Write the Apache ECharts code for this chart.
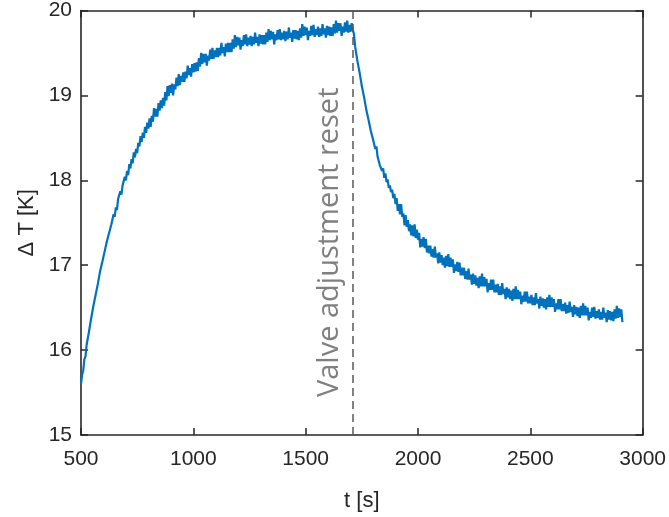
<!DOCTYPE html>
<html>
<head>
<meta charset="utf-8">
<script src="https://cdn.jsdelivr.net/npm/echarts@6/dist/echarts.min.js"></script>
<style>
html,body{margin:0;padding:0;background:#fff;}
#c{width:669px;height:517px;}
</style>
</head>
<body>
<div id="c"></div>
<script>
// sampling grid (s)
var tStart = 500;
var tStep = 5;
// Delta T [K] (noisy trace), one value per 5 s from 500 s to 2910 s
var riseValues = [
15.60,15.71,15.76,15.89,15.93,16.06,16.08,16.21,16.23,16.37,
16.39,16.52,16.53,16.65,16.66,16.78,16.79,16.93,16.93,17.04,
17.03,17.16,17.16,17.28,17.26,17.38,17.36,17.48,17.47,17.60,
17.57,17.68,17.65,17.78,17.76,17.87,17.83,17.94,17.92,18.04,
18.00,18.11,18.06,18.19,18.14,18.25,18.20,18.33,18.27,18.37,
18.32,18.44,18.40,18.52,18.45,18.56,18.50,18.63,18.56,18.68,
18.61
];
var plateauValues = [
18.73,18.63,18.76,18.69,18.85,18.75,18.84,18.75,18.91,18.82,
18.94,18.85,18.97,18.88,19.04,18.94,19.11,18.99,19.12,19.03,
19.14,19.00,19.13,19.07,19.21,19.11,19.25,19.12,19.23,19.16,
19.27,19.16,19.28,19.20,19.35,19.24,19.32,19.22,19.37,19.27,
19.38,19.28,19.39,19.29,19.44,19.34,19.50,19.37,19.49,19.39,
19.49,19.35,19.47,19.41,19.54,19.43,19.56,19.43,19.53,19.45,
19.56,19.45,19.56,19.47,19.62,19.50,19.57,19.46,19.61,19.51,
19.62,19.51,19.62,19.51,19.66,19.55,19.71,19.57,19.69,19.59,
19.68,19.54,19.65,19.58,19.71,19.60,19.72,19.58,19.68,19.60,
19.70,19.58,19.69,19.60,19.74,19.62,19.69,19.58,19.72,19.61,
19.71,19.60,19.71,19.60,19.74,19.63,19.78,19.65,19.76,19.66,
19.75,19.60,19.72,19.65,19.77,19.66,19.78,19.65,19.74,19.66,
19.76,19.64,19.75,19.66,19.80,19.68,19.74,19.63,19.77,19.67,
19.77,19.66,19.76,19.65,19.79,19.68,19.84,19.70,19.81,19.71,
19.80,19.65,19.76,19.70,19.82,19.71,19.83,19.69,19.78,19.71,
19.81,19.69,19.79,19.70,19.84,19.72,19.79,19.68,19.82,19.71,
19.81,19.70,19.80,19.70,19.84,19.73,19.88,19.74,19.85,19.76,
19.85,19.70,19.81,19.74,19.86,19.75,19.88,19.74,19.83,19.75,
19.85,19.77
];
var dropValues = [
19.72,19.58,19.56,19.41,19.42,19.27,19.26,19.11,19.10,18.98,
18.97,18.83,18.85,18.71,18.71,18.58,18.59,18.48,18.49,18.37,
18.40,18.28,18.30,18.18,18.20,18.11,18.14,18.03,18.08,17.98,
18.01,17.91,17.94,17.86,17.89,17.79,17.84,17.72
];
var tailValues = [
17.79,17.64,17.72,17.60,17.72,17.57,17.61,17.47,17.59,17.45,
17.53,17.40,17.48,17.35,17.47,17.34,17.48,17.32,17.42,17.30,
17.38,17.21,17.31,17.22,17.33,17.20,17.31,17.15,17.23,17.14,
17.23,17.10,17.19,17.09,17.22,17.09,17.14,17.02,17.15,17.03,
17.12,17.00,17.09,16.97,17.11,16.99,17.13,16.98,17.09,16.98,
17.07,16.91,17.01,16.93,17.04,16.92,17.03,16.88,16.97,16.88,
16.97,16.84,16.93,16.83,16.96,16.83,16.89,16.77,16.90,16.78,
16.88,16.76,16.85,16.73,16.87,16.75,16.90,16.75,16.86,16.75,
16.84,16.68,16.79,16.71,16.83,16.71,16.83,16.68,16.77,16.68,
16.78,16.65,16.75,16.65,16.79,16.66,16.72,16.60,16.74,16.62,
16.72,16.60,16.70,16.58,16.72,16.60,16.75,16.60,16.71,16.60,
16.69,16.54,16.64,16.57,16.69,16.57,16.69,16.55,16.63,16.55,
16.65,16.53,16.62,16.53,16.67,16.55,16.60,16.49,16.63,16.52,
16.61,16.50,16.60,16.48,16.62,16.51,16.65,16.51,16.62,16.51,
16.60,16.45,16.55,16.48,16.60,16.48,16.60,16.46,16.54,16.46,
16.56,16.43,16.53,16.44,16.57,16.45,16.51,16.39,16.53,16.42,
16.51,16.40,16.50,16.38,16.52,16.41,16.55,16.41,16.52,16.41,
16.50,16.35,16.45,16.38,16.50,16.39,16.51,16.37,16.46,16.38,
16.48,16.36,16.45,16.36,16.50,16.38,16.44,16.33,16.47,16.36,
16.46,16.35,16.45,16.34,16.48,16.37,16.52,16.38,16.49,16.39,
16.48,16.33
];
var resetTime = 1710;
var resetLabel = 'Valve adjustment reset';
var xTicks = [500, 1000, 1500, 2000, 2500, 3000];
var yTicks = [15, 16, 17, 18, 19, 20];

var deltaT = riseValues.concat(plateauValues, dropValues, tailValues);
var seriesData = deltaT.map(function (v, i) { return [tStart + i * tStep, v]; });

var axisColor = '#262626';
var labelFont = {fontFamily: 'Liberation Sans', fontSize: 21, color: axisColor};
var nameFont = {fontFamily: 'Liberation Sans', fontSize: 22, color: axisColor};

function xAx(pos, showLabel) {
  return {
    type: 'value', position: pos, min: xTicks[0], max: xTicks[xTicks.length - 1], interval: 500,
    name: showLabel ? 't [s]' : '', nameLocation: 'middle', nameGap: 55,
    nameTextStyle: nameFont,
    axisLine: {show: true, onZero: false, lineStyle: {color: axisColor, width: 1.6}},
    axisTick: {show: true, inside: true, length: 7, lineStyle: {color: axisColor, width: 1.5}},
    axisLabel: Object.assign({show: showLabel, margin: 14, formatter: function (v) { return String(v); }}, labelFont),
    splitLine: {show: false}
  };
}
function yAx(pos, showLabel) {
  return {
    type: 'value', position: pos, min: yTicks[0], max: yTicks[yTicks.length - 1], interval: 1,
    name: showLabel ? 'Δ T [K]' : '', nameLocation: 'middle', nameGap: 39, nameRotate: 90,
    nameTextStyle: nameFont,
    axisLine: {show: true, onZero: false, lineStyle: {color: axisColor, width: 1.6}},
    axisTick: {show: true, inside: true, length: 7, lineStyle: {color: axisColor, width: 1.5}},
    axisLabel: Object.assign({show: showLabel, margin: 9, formatter: function (v) { return String(v); }}, labelFont),
    splitLine: {show: false}
  };
}

var chart = echarts.init(document.getElementById('c'), null, {renderer: 'canvas'});
chart.setOption({
  animation: false,
  backgroundColor: '#ffffff',
  grid: {left: 81, right: 26, top: 10, bottom: 80, containLabel: false},
  xAxis: [xAx('bottom', true), xAx('top', false)],
  yAxis: [yAx('left', true), yAx('right', false)],
  series: [{
    type: 'line',
    data: seriesData,
    showSymbol: false,
    lineStyle: {color: '#0072BD', width: 2.2},
    z: 3,
    markLine: {
      silent: true,
      symbol: ['none', 'none'],
      label: {show: false},
      lineStyle: {color: '#5a5a5a', type: [8, 5], width: 1.5},
      data: [[{coord: [resetTime, yTicks[0]]}, {coord: [resetTime, yTicks[yTicks.length - 1]]}]]
    }
  }]
});

var p = chart.convertToPixel({gridIndex: 0}, [resetTime, 17.27]);
chart.setOption({
  graphic: [{
    type: 'text',
    x: p[0] - 23, y: p[1],
    rotation: Math.PI / 2,
    style: {
      text: resetLabel,
      fontFamily: 'Open Sans',
      fontSize: 29,
      fill: '#808080',
      align: 'center',
      verticalAlign: 'middle'
    }
  }]
});
</script>
</body>
</html>
